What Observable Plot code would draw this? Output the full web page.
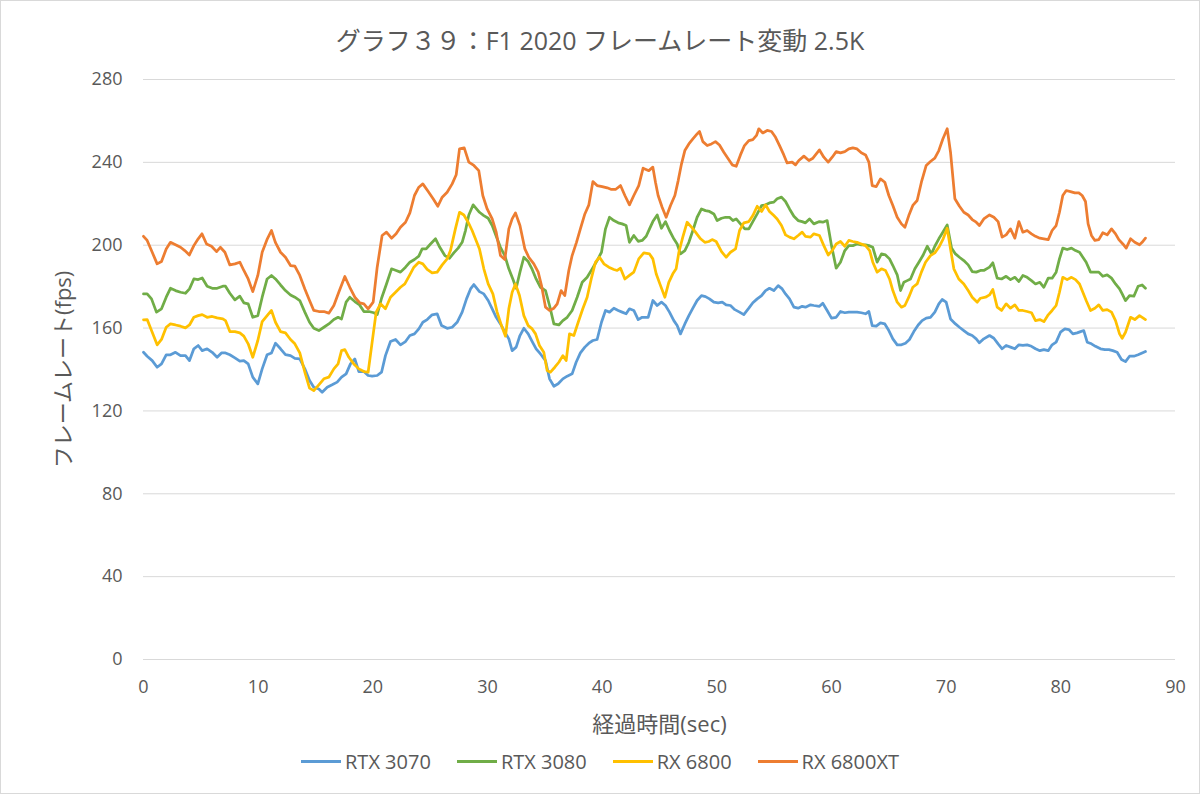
<!DOCTYPE html>
<html><head><meta charset="utf-8">
<script src="https://cdn.jsdelivr.net/npm/d3@7"></script>
<script src="https://cdn.jsdelivr.net/npm/@observablehq/plot@0.6"></script>
<style>
html,body{margin:0;padding:0;background:#fff;}
#frame{width:1200px;height:794px;box-sizing:border-box;border:1px solid #d9d9d9;overflow:hidden;font-family:"Open Sans","Noto Sans CJK JP",sans-serif;color:#595959;background:#fff;}
#title{height:46px;padding-top:16px;line-height:46px;text-align:center;font-size:25px;white-space:nowrap;}
#chart svg{display:block;}
#legend{height:36px;display:flex;justify-content:center;align-items:center;font-size:20px;}
.item{display:flex;align-items:center;margin:0 13px;}
.sw{width:40px;height:3px;margin-right:4px;}
</style></head>
<body>
<div id="frame">
  <div id="title"></div>
  <div id="chart"></div>
  <div id="legend"></div>
</div>
<script>
const titleText = "グラフ３９：F1 2020 フレームレート変動 2.5K";
const xLabel = "経過時間(sec)";
const yLabel = "フレームレート(fps)";
const xTicks = [0,10,20,30,40,50,60,70,80,90];
const yTicks = [0,40,80,120,160,200,240,280];
const seriesNames = ["RTX 3070","RTX 3080","RX 6800","RX 6800XT"];
const seriesColors = ["#5B9BD5","#70AD47","#FFC000","#ED7D31"];

// [time (sec), fps]
const rtx3070 = [[0,148.3],[0.32,146.4],[0.76,144.3],[1.19,141.1],[1.57,142.7],[1.98,147.1],[2.35,147.1],[2.79,148.3],[3.23,146.7],[3.66,146.7],[4.01,144.3],[4.39,150.0],[4.77,151.6],[5.12,149.1],[5.55,150.0],[5.99,148.3],[6.42,145.9],[6.8,148.0],[7.15,148.0],[7.53,147.1],[7.97,145.6],[8.4,144.0],[8.75,144.3],[9.13,142.7],[9.53,136.3],[9.97,133.1],[10.35,140.3],[10.78,147.1],[11.16,148.0],[11.51,152.7],[11.95,150.0],[12.38,147.2],[12.82,146.7],[13.2,145.4],[13.63,145.1],[14.07,140.3],
[14.48,134.7],[14.85,131.4],[15.29,130.6],[15.58,129.0],[16.02,131.4],[16.45,132.6],[16.89,133.9],[17.27,136.3],[17.67,137.9],[18.05,142.7],[18.43,145.1],[18.78,139.0],[19.22,139.0],[19.59,137.1],[19.94,136.8],[20.38,137.1],[20.76,138.7],[21.1,146.7],[21.54,153.5],[21.98,154.5],[22.41,151.9],[22.85,153.5],[23.23,156.4],[23.63,157.2],[24.01,159.6],[24.36,162.8],[24.74,164.1],[25.17,166.4],[25.61,166.9],[25.99,161.2],[26.48,159.9],[26.92,160.4],[27.35,162.8],[27.79,167.7],[28.17,174.1],[28.52,178.9],[28.81,181.0],
[29.3,177.6],[29.68,176.5],[30.06,173.3],[30.41,169.3],[30.76,165.2],[31.13,162.0],[31.51,158.0],[31.86,154.8],[32.15,149.1],[32.5,150.8],[32.83,156.4],[33.17,159.9],[33.55,157.2],[33.9,153.5],[34.24,150.0],[34.62,147.5],[35.06,144.3],[35.41,135.5],[35.79,131.9],[36.16,133.1],[36.57,135.5],[36.95,136.8],[37.38,137.9],[37.73,143.5],[38.1,148.0],[38.49,150.8],[38.84,152.7],[39.19,154.0],[39.56,154.5],[39.94,162.8],[40.29,168.5],[40.64,167.7],[41.02,169.6],[41.4,168.5],[41.74,167.7],[42.09,166.9],[42.38,169.3],[42.76,168.5],[43.14,164.1],[43.49,165.2],
[44.01,165.2],[44.42,173.3],[44.8,170.9],[45.17,172.5],[45.52,170.9],[45.87,167.7],[46.25,163.6],[46.54,161.2],[46.83,157.2],[47.21,162.0],[47.56,166.0],[47.91,169.6],[48.28,173.3],[48.66,175.7],[49.01,175.2],[49.36,174.1],[49.74,172.5],[50.12,172.2],[50.47,172.5],[50.81,171.2],[51.19,170.9],[51.57,168.9],[51.98,167.7],[52.35,166.5],[52.79,169.6],[53.14,172.2],[53.52,174.1],[53.9,175.7],[54.25,178.1],[54.59,179.2],[54.97,178.1],[55.35,180.5],[55.7,178.9],[55.99,176.5],[56.34,174.1],[56.72,170.1],[57.09,169.6],[57.44,170.5],[57.73,170.1],[58.17,171.2],[58.46,170.9],
[58.95,170.5],[59.24,172.0],[59.62,168.5],[60.0,164.8],[60.41,165.2],[60.78,168.0],[61.16,167.4],[61.51,167.7],[61.86,167.7],[62.23,167.7],[62.6,167.4],[62.97,166.9],[63.26,168.0],[63.55,161.2],[63.9,160.9],[64.27,162.5],[64.65,162.0],[65.0,158.8],[65.35,154.8],[65.73,151.9],[66.1,151.9],[66.45,152.7],[66.8,154.5],[67.18,158.3],[67.56,161.5],[67.9,163.6],[68.26,164.8],[68.63,165.2],[69.01,167.7],[69.36,171.7],[69.65,173.8],[70.0,172.5],[70.38,164.4],[70.81,162.0],[71.16,160.4],[71.54,158.8],[71.92,157.2],[72.27,156.4],[72.62,154.8],[72.9,152.9],[73.28,154.8],
[73.78,156.4],[74.16,155.1],[74.53,152.4],[74.88,150.0],[75.23,151.6],[75.61,150.8],[75.99,150.0],[76.34,151.9],[76.69,151.6],[77.06,151.9],[77.44,151.2],[77.79,150.0],[78.17,149.1],[78.52,149.6],[78.9,149.1],[79.24,151.9],[79.59,153.2],[79.97,158.0],[80.35,159.6],[80.7,159.3],[81.05,157.2],[81.42,157.7],[81.72,158.3],[82.0,158.8],[82.3,153.2],[82.67,152.4],[83.02,151.2],[83.46,150.0],[83.84,149.6],[84.19,149.6],[84.53,149.1],[84.91,148.3],[85.29,144.8],[85.64,143.8],[85.99,146.4],[86.37,146.4],[86.74,147.1],[87.09,148.0],[87.38,148.7]];

const rtx3080 = [[0,176.5],[0.32,176.5],[0.7,174.1],[1.13,167.7],[1.57,169.3],[1.98,174.9],[2.35,179.2],[2.79,178.1],[3.23,177.3],[3.66,176.8],[4.01,178.9],[4.39,183.7],[4.77,183.4],[5.12,184.2],[5.55,180.2],[5.99,179.2],[6.42,179.2],[6.92,180.2],[7.15,180.2],[7.53,176.8],[7.97,173.6],[8.4,175.4],[8.75,172.2],[9.13,171.7],[9.53,165.2],[9.97,166.0],[10.35,174.9],[10.78,183.7],[11.16,185.4],[11.51,183.7],[11.95,180.8],[12.38,178.1],[12.82,176.0],[13.2,174.9],[13.63,173.3],[14.07,167.7],
[14.48,162.8],[14.85,159.9],[15.29,158.8],[15.73,160.4],[16.16,162.0],[16.6,164.1],[16.97,165.2],[17.27,164.4],[17.67,172.5],[17.99,174.9],[18.43,172.8],[18.84,171.2],[19.22,168.0],[19.65,168.0],[20.09,167.4],[20.38,166.5],[20.76,174.4],[21.19,181.3],[21.63,188.6],[22.03,187.8],[22.41,187.0],[22.85,189.4],[23.23,191.8],[23.63,193.1],[24.01,194.7],[24.3,198.2],[24.65,198.2],[25.03,200.6],[25.47,203.1],[25.84,199.0],[26.28,195.0],[26.69,193.7],[27.06,196.3],[27.44,198.6],[27.79,201.4],[28.08,207.1],[28.37,214.6],[28.75,219.5],
[29.3,215.9],[29.68,214.3],[30.06,213.0],[30.41,209.5],[30.76,204.3],[31.13,199.0],[31.51,195.0],[31.86,188.6],[32.21,183.7],[32.5,179.2],[32.83,187.0],[33.17,194.2],[33.55,192.1],[33.9,188.3],[34.24,183.7],[34.62,179.7],[35.06,178.1],[35.41,170.9],[35.79,162.0],[36.22,161.5],[36.57,163.6],[36.95,165.2],[37.38,168.5],[37.82,174.9],[38.26,182.1],[38.69,184.5],[39.13,188.6],[39.56,192.6],[39.94,196.6],[40.29,207.9],[40.64,213.5],[41.02,211.9],[41.4,210.8],[41.74,210.3],[42.09,209.5],[42.38,201.4],[42.76,204.7],[43.14,201.9],[43.49,202.3],
[43.84,204.3],[44.13,207.9],[44.42,211.4],[44.8,214.6],[45.17,208.2],[45.52,211.4],[45.87,207.1],[46.25,203.1],[46.54,200.6],[46.83,195.8],[47.21,197.4],[47.56,201.4],[47.91,207.1],[48.28,213.5],[48.66,217.5],[49.01,216.7],[49.36,216.3],[49.74,215.1],[50.03,211.9],[50.41,213.0],[50.76,213.5],[51.1,213.5],[51.4,211.9],[51.69,212.7],[52.06,210.3],[52.44,207.9],[52.79,207.9],[53.14,211.4],[53.52,215.1],[53.9,219.1],[54.25,219.5],[54.59,220.4],[54.97,220.8],[55.26,222.4],[55.64,223.2],[55.99,221.1],[56.34,217.5],[56.72,214.0],[57.09,211.9],[57.44,211.4],[57.73,210.8],[58.08,212.7],[58.46,210.3],
[58.95,211.4],[59.24,211.1],[59.62,211.9],[60.0,199.8],[60.41,188.9],[60.78,191.8],[61.16,197.4],[61.51,199.8],[61.86,199.8],[62.23,200.6],[62.6,200.2],[62.97,200.2],[63.26,199.8],[63.6,199.0],[63.98,191.8],[64.36,195.8],[64.71,195.3],[65.06,193.4],[65.35,190.2],[65.73,185.7],[66.02,178.1],[66.31,182.1],[66.6,182.9],[66.89,183.7],[67.27,188.6],[67.62,191.8],[67.97,195.0],[68.35,199.5],[68.72,195.8],[69.01,199.5],[69.36,203.1],[69.71,206.3],[70.09,209.8],[70.47,198.6],[70.81,195.8],[71.16,194.2],[71.54,192.6],[71.92,190.5],[72.27,187.3],[72.62,187.0],[72.99,187.8],[73.28,187.8],
[73.78,189.4],[74.07,191.5],[74.45,184.1],[74.83,183.7],[75.23,185.0],[75.61,183.4],[75.99,184.5],[76.34,182.5],[76.69,185.4],[77.06,184.5],[77.44,182.9],[77.79,181.3],[78.17,182.1],[78.52,179.7],[78.9,184.1],[79.24,184.1],[79.59,187.0],[79.88,193.4],[80.17,198.6],[80.55,197.9],[80.93,198.6],[81.28,197.4],[81.63,196.6],[81.92,194.2],[82.21,191.8],[82.59,187.0],[82.97,187.0],[83.31,187.0],[83.66,185.0],[84.04,185.7],[84.42,184.1],[84.77,181.3],[85.12,178.9],[85.35,176.5],[85.64,173.3],[85.99,175.7],[86.37,175.4],[86.74,180.2],[87.09,180.8],[87.38,179.2]];

const rx6800 = [[0,164.0],[0.32,164.1],[0.76,158.0],[1.19,151.9],[1.57,154.5],[1.98,160.4],[2.35,162.0],[2.79,161.5],[3.23,160.9],[3.66,160.1],[4.01,161.5],[4.39,165.2],[4.77,166.0],[5.12,166.5],[5.55,165.2],[5.99,165.6],[6.42,164.9],[6.92,164.4],[7.15,163.6],[7.53,158.3],[7.97,158.3],[8.4,157.7],[8.75,156.1],[9.13,152.4],[9.53,145.9],[9.97,154.0],[10.35,163.1],[10.78,166.0],[11.16,168.5],[11.51,162.8],[11.95,158.3],[12.38,157.7],[12.82,154.5],[13.2,152.4],[13.63,148.0],[14.07,138.7],
[14.48,131.0],[14.85,129.8],[15.29,132.6],[15.73,135.5],[16.16,136.3],[16.6,140.3],[16.97,142.7],[17.27,149.1],[17.56,149.6],[17.91,145.9],[18.34,142.7],[18.78,140.3],[19.22,139.0],[19.59,138.7],[19.94,153.2],[20.29,167.7],[20.67,171.7],[21.1,169.3],[21.54,174.9],[21.98,177.3],[22.41,179.7],[22.79,181.3],[23.2,185.4],[23.58,189.4],[24.01,191.8],[24.36,191.0],[24.74,188.3],[25.17,186.6],[25.61,187.0],[26.05,190.5],[26.48,193.4],[26.77,197.4],[27.2,207.9],[27.56,215.9],[27.94,214.6],[28.31,211.1],[28.66,207.1],
[29.3,198.2],[29.68,188.6],[30.06,181.3],[30.47,176.5],[30.84,167.7],[31.22,161.2],[31.57,156.1],[31.86,169.3],[32.15,177.3],[32.44,181.3],[32.79,175.7],[33.17,166.0],[33.55,161.2],[33.9,159.6],[34.19,157.2],[34.53,151.6],[34.91,148.3],[35.2,139.5],[35.49,138.7],[35.87,141.1],[36.22,143.5],[36.57,146.7],[36.86,144.3],[37.15,157.2],[37.53,156.4],[37.91,162.8],[38.31,169.3],[38.69,174.9],[39.08,184.5],[39.42,191.8],[39.77,194.2],[40.15,191.0],[40.58,189.4],[41.02,188.3],[41.31,187.8],[41.6,188.9],[41.98,183.7],[42.38,185.4],[42.76,187.0],[43.19,193.4],[43.63,196.3],
[44.13,195.8],[44.42,193.4],[44.71,186.2],[45.09,180.5],[45.47,174.9],[45.81,182.1],[46.16,186.2],[46.45,188.6],[46.69,196.6],[47.03,203.9],[47.41,211.1],[47.79,208.7],[48.14,206.3],[48.58,203.1],[48.95,201.4],[49.3,201.8],[49.59,202.7],[49.94,201.8],[50.41,196.9],[50.81,194.2],[51.19,196.6],[51.63,198.2],[51.98,207.1],[52.35,210.8],[52.79,211.4],[53.14,214.3],[53.52,218.8],[53.9,216.3],[54.25,219.5],[54.59,216.3],[54.97,214.3],[55.26,212.7],[55.64,209.5],[55.99,205.0],[56.34,203.9],[56.72,203.1],[57.09,204.7],[57.44,206.3],[57.73,204.3],[58.17,203.9],[58.46,205.5],
[58.95,204.7],[59.33,199.8],[59.71,195.3],[60.06,197.4],[60.41,200.6],[60.78,201.8],[61.16,199.5],[61.51,202.3],[61.86,201.8],[62.23,201.4],[62.6,200.6],[62.97,199.8],[63.33,197.4],[63.6,191.8],[63.98,187.0],[64.36,188.6],[64.71,187.8],[65.06,183.7],[65.35,178.1],[65.73,172.5],[66.1,170.1],[66.4,170.9],[66.74,174.9],[67.09,179.7],[67.47,181.3],[67.84,187.0],[68.2,191.8],[68.63,195.0],[69.01,196.3],[69.36,199.0],[69.74,203.1],[70.09,208.2],[70.38,198.2],[70.67,188.6],[71.1,183.7],[71.54,181.3],[71.92,178.1],[72.27,174.9],[72.71,172.5],[72.99,174.4],[73.43,174.9],
[73.78,176.0],[74.07,178.6],[74.45,170.1],[74.83,168.5],[75.23,171.7],[75.61,169.6],[75.99,171.2],[76.34,168.5],[76.69,168.5],[77.06,168.0],[77.44,167.4],[77.79,163.6],[78.17,164.1],[78.52,163.1],[78.9,166.4],[79.24,168.5],[79.59,170.9],[79.88,177.3],[80.17,184.5],[80.55,183.4],[80.93,184.5],[81.28,183.4],[81.63,181.3],[81.92,177.3],[82.21,173.3],[82.59,168.5],[82.97,169.6],[83.31,171.2],[83.66,168.5],[84.04,168.9],[84.42,167.7],[84.77,163.6],[85.12,157.2],[85.35,155.1],[85.64,158.0],[86.08,165.2],[86.45,164.1],[86.86,166.0],[87.09,165.2],[87.38,164.1]];

const rx6800xt = [[0,204.3],[0.32,202.3],[0.76,196.6],[1.19,191.0],[1.57,192.1],[1.98,198.2],[2.35,201.4],[2.79,200.2],[3.23,199.0],[3.6,197.4],[4.0,195.3],[4.39,199.8],[4.77,203.1],[5.1,205.5],[5.5,200.6],[5.93,199.5],[6.37,196.9],[6.7,199.0],[7.1,196.6],[7.53,190.5],[7.97,191.0],[8.4,191.8],[8.75,187.8],[9.13,183.7],[9.53,177.6],[9.97,185.4],[10.35,196.6],[10.8,203.1],[11.16,207.1],[11.5,201.4],[11.95,196.6],[12.38,194.2],[12.82,190.2],[13.2,189.9],[13.63,185.4],[14.07,178.9],
[14.48,173.3],[14.85,168.5],[15.29,168.0],[15.73,168.0],[16.16,167.2],[16.6,170.9],[17.03,177.3],[17.56,184.9],[17.99,179.7],[18.43,174.9],[18.87,172.2],[19.22,171.7],[19.59,169.3],[20.03,172.5],[20.38,189.4],[20.81,204.7],[21.19,206.3],[21.63,203.4],[22.03,205.5],[22.41,208.7],[22.85,211.1],[23.23,215.6],[23.63,224.0],[24.01,228.0],[24.36,229.6],[24.83,225.9],[25.26,222.4],[25.67,218.8],[26.05,223.2],[26.48,225.6],[26.92,229.6],[27.27,234.0],[27.56,246.5],[27.97,247.0],[28.37,240.1],[28.81,238.5],
[29.24,236.0],[29.59,224.0],[29.97,217.5],[30.41,212.7],[30.76,206.3],[31.13,195.0],[31.51,193.1],[31.86,207.9],[32.15,212.7],[32.44,215.6],[32.83,209.5],[33.26,198.2],[33.6,194.2],[34.04,191.0],[34.42,187.0],[34.71,180.5],[35.06,170.1],[35.41,168.5],[35.79,169.6],[36.08,171.7],[36.42,178.1],[36.74,175.7],[37.09,187.8],[37.38,195.0],[37.76,201.4],[38.1,207.9],[38.49,215.1],[38.84,219.5],[39.19,230.7],[39.56,228.8],[40.0,228.3],[40.44,227.7],[40.81,226.9],[41.16,226.9],[41.6,228.8],[41.98,224.0],[42.38,219.5],[42.76,224.0],[43.19,228.8],[43.57,237.2],
[44.07,236.0],[44.42,237.7],[44.65,230.4],[44.88,224.0],[45.23,218.3],[45.58,213.5],[45.96,219.2],[46.34,224.0],[46.63,231.2],[46.92,239.3],[47.21,245.7],[47.56,248.9],[47.91,251.3],[48.28,253.7],[48.49,254.9],[48.78,250.0],[49.16,248.1],[49.53,248.9],[49.88,250.0],[50.23,248.4],[50.61,244.9],[50.99,241.7],[51.34,238.8],[51.69,238.1],[52.06,243.6],[52.41,248.1],[52.79,250.5],[53.14,251.0],[53.46,253.0],[53.66,256.2],[54.01,254.2],[54.39,255.4],[54.77,254.9],[55.12,252.1],[55.47,248.1],[55.84,243.6],[56.13,239.7],[56.57,240.1],[56.86,238.8],[57.15,240.9],[57.59,243.0],[58.03,240.9],[58.38,242.0],
[58.95,246.0],[59.33,242.5],[59.71,240.1],[60.06,242.5],[60.41,245.2],[60.78,244.6],[61.16,245.2],[61.51,246.5],[61.86,247.0],[62.23,246.5],[62.6,244.6],[62.97,243.6],[63.26,240.1],[63.55,228.8],[63.9,228.3],[64.27,232.0],[64.65,230.4],[65.0,224.0],[65.35,219.2],[65.73,213.5],[66.1,210.3],[66.4,208.7],[66.74,214.3],[67.09,219.2],[67.47,221.6],[67.84,230.4],[68.26,238.5],[68.63,240.4],[69.01,242.0],[69.36,245.7],[69.71,251.3],[70.09,256.2],[70.38,244.9],[70.76,222.4],[71.16,218.8],[71.54,215.9],[71.92,214.6],[72.27,212.4],[72.62,211.1],[72.9,209.5],[73.28,212.7],
[73.78,214.6],[74.16,213.5],[74.53,211.4],[74.88,203.9],[75.23,205.0],[75.61,207.9],[75.99,203.4],[76.34,211.4],[76.69,206.3],[77.06,207.1],[77.44,205.5],[77.79,204.3],[78.17,203.4],[78.52,203.1],[78.9,202.7],[79.24,207.1],[79.59,209.5],[79.88,215.9],[80.17,224.0],[80.47,226.4],[80.84,225.9],[81.22,225.3],[81.57,225.3],[81.86,224.0],[82.15,221.1],[82.38,210.3],[82.67,204.7],[82.97,202.3],[83.31,202.7],[83.66,206.0],[84.04,205.0],[84.42,207.9],[84.77,205.5],[85.06,202.7],[85.41,200.6],[85.7,198.6],[86.08,203.1],[86.45,201.4],[86.86,200.2],[87.09,201.4],[87.38,203.4]];

const seriesData = [rtx3070, rtx3080, rx6800, rx6800xt];
const rows = seriesData.flatMap((arr, i) => arr.map(([t, v]) => ({series: seriesNames[i], t, v})));

document.getElementById("title").textContent = titleText;

const font = '"Open Sans","Noto Sans CJK JP",sans-serif';
const chart = Plot.plot({
  width: 1198, height: 680,
  marginTop: 16, marginBottom: 84, marginLeft: 142, marginRight: 24,
  x: {domain: [0, 90], ticks: xTicks, tickSize: 0, tickPadding: 21, label: null},
  y: {domain: [0, 280], ticks: yTicks, tickSize: 0, tickPadding: 21, label: null},
  color: {domain: seriesNames, range: seriesColors},
  style: {fontSize: "18px", fontFamily: font, color: "#595959", background: "transparent"},
  marks: [
    Plot.ruleY(yTicks, {stroke: "#d9d9d9", strokeWidth: 1}),
    Plot.line(rows, {x: "t", y: "v", z: "series", stroke: "series", strokeWidth: 2.75, strokeLinejoin: "round", strokeLinecap: "round"}),
    Plot.text([xLabel], {frameAnchor: "bottom", textAnchor: "middle", lineAnchor: "middle", dy: 65, fontSize: 22, fill: "#595959"}),
    Plot.text([yLabel], {frameAnchor: "left", textAnchor: "middle", lineAnchor: "middle", dx: -80, rotate: -90, fontSize: 22, fill: "#595959"})
  ]
});
document.getElementById("chart").appendChild(chart);

const legend = document.getElementById("legend");
seriesNames.forEach((n, i) => {
  const it = document.createElement("div"); it.className = "item";
  const sw = document.createElement("div"); sw.className = "sw"; sw.style.background = seriesColors[i];
  const tx = document.createElement("span"); tx.textContent = n;
  it.appendChild(sw); it.appendChild(tx); legend.appendChild(it);
});
</script>
</body></html>
